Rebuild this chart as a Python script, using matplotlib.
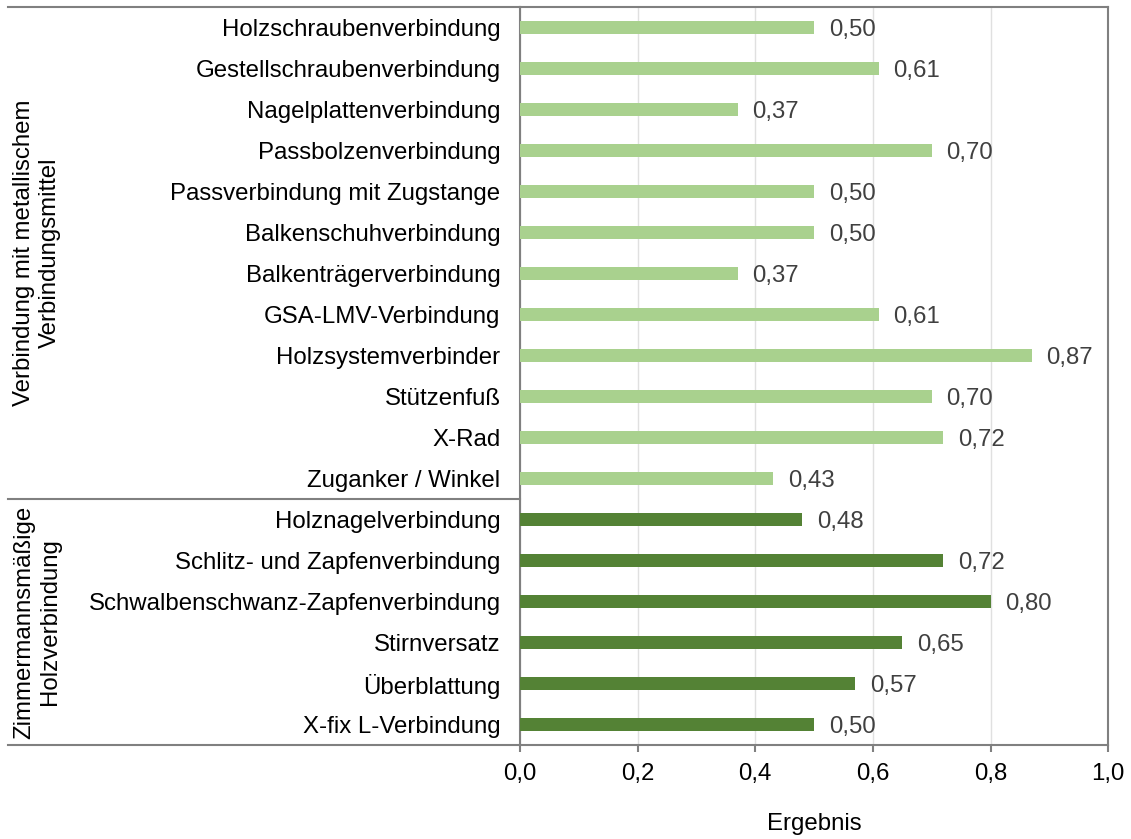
import matplotlib

matplotlib.use("Agg")
import matplotlib.pyplot as plt  # noqa: E402

plt.rcParams["font.family"] = ["Liberation Sans", "DejaVu Sans"]

# Verbindungen mit metallischem Verbindungsmittel (hellgrün)
metal_labels = [
    "Holzschraubenverbindung",
    "Gestellschraubenverbindung",
    "Nagelplattenverbindung",
    "Passbolzenverbindung",
    "Passverbindung mit Zugstange",
    "Balkenschuhverbindung",
    "Balkenträgerverbindung",
    "GSA-LMV-Verbindung",
    "Holzsystemverbinder",
    "Stützenfuß",
    "X-Rad",
    "Zuganker / Winkel",
]
metal_values = [0.50, 0.61, 0.37, 0.70, 0.50, 0.50, 0.37, 0.61, 0.87, 0.70, 0.72, 0.43]

# Zimmermannsmäßige Holzverbindungen (dunkelgrün)
wood_labels = [
    "Holznagelverbindung",
    "Schlitz- und Zapfenverbindung",
    "Schwalbenschwanz-Zapfenverbindung",
    "Stirnversatz",
    "Überblattung",
    "X-fix L-Verbindung",
]
wood_values = [0.48, 0.72, 0.80, 0.65, 0.57, 0.50]

group_names = ["Verbindung mit metallischem\nVerbindungsmittel",
               "Zimmermannsmäßige\nHolzverbindung"]
x_ticks = [0.0, 0.2, 0.4, 0.6, 0.8, 1.0]

labels = metal_labels + wood_labels
values = metal_values + wood_values
colors = ["#a9d18e"] * len(metal_values) + ["#548235"] * len(wood_values)
n = len(labels)
ypos = list(range(n))
fs = 17.3

fig = plt.figure(figsize=(11.31, 8.39), dpi=100)
ax = fig.add_axes([0.4598, 0.112, 0.52, 0.8798])

ax.barh(ypos, values, height=0.3, color=colors, zorder=3)
for y, v in zip(ypos, values):
    ax.text(v + 0.025, y, f"{v:.2f}".replace(".", ","), va="center_baseline",
            ha="left", fontsize=fs, color="#404040")

ax.set_ylim(n - 0.5, -0.5)
ax.set_xlim(0, 1.0)
ax.set_yticks(ypos)
ax.set_yticklabels(labels, fontsize=fs)
ax.tick_params(axis="y", length=0, pad=14)
ax.set_xticks(x_ticks)
ax.set_xticklabels([f"{t:.1f}".replace(".", ",") for t in x_ticks], fontsize=fs)
ax.tick_params(axis="x", length=5, width=1.5, color="#808080", pad=8)
ax.grid(axis="x", color="#e0e0e0", linewidth=1, zorder=0)
ax.set_xlabel("Ergebnis", fontsize=fs, labelpad=20)

for side in ax.spines.values():
    side.set_color("#808080")
    side.set_linewidth(1.5)

# Gruppentrennlinien nach links verlängert
x_left = -0.871
sep = len(metal_values) - 0.5
for yy in (-0.5, sep, n - 0.5):
    ax.plot([x_left, 0], [yy, yy], color="#808080", linewidth=1.5,
            clip_on=False, transform=ax.transData, zorder=4)

# Gruppenbeschriftungen
group_centers = [(-0.5 + sep) / 2, (sep + n - 0.5) / 2]
for name, yc in zip(group_names, group_centers):
    ax.text(-0.821, yc, name, rotation=90, ha="center", va="center",
            fontsize=fs, linespacing=1.2, clip_on=False)

fig.savefig("out.png", dpi=100)
plt.close(fig)
